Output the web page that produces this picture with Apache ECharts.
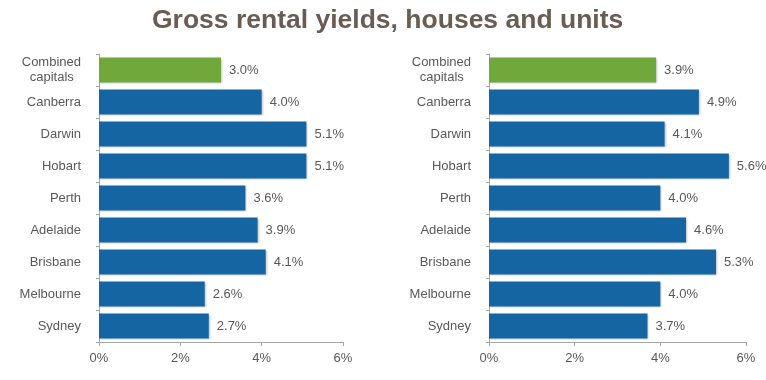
<!DOCTYPE html>
<html><head><meta charset="utf-8">
<script src="https://cdn.jsdelivr.net/npm/echarts@6/dist/echarts.min.js"></script>
<style>html,body{margin:0;padding:0;background:#fff}#c{width:766px;height:380px}</style>
</head><body><div id="c"></div>
<script>
const categories = ['Combined capitals','Canberra','Darwin','Hobart','Perth','Adelaide','Brisbane','Melbourne','Sydney'];
const housesYield = [3.0, 4.0, 5.1, 5.1, 3.6, 3.9, 4.1, 2.6, 2.7];
const unitsYield = [3.9, 4.9, 4.1, 5.6, 4.0, 4.6, 5.3, 4.0, 3.7];
const xTicks = [0, 2, 4, 6];

const BLUE = '#1565a2', GREEN = '#71a83c', TXT = '#595959', AX = '#a6a6a6';
const font = 'Liberation Sans, Arial, sans-serif';

function colored(vals){
  return vals.map((v,i)=>({value:v, itemStyle:{color: i===0 ? GREEN : BLUE}}));
}
function xAxis(idx){
  return {gridIndex:idx, type:'value', min:xTicks[0], max:xTicks[xTicks.length-1], interval:2,
    splitLine:{show:false},
    axisLine:{show:true, lineStyle:{color:AX}},
    axisTick:{show:true, length:4, lineStyle:{color:AX}},
    axisLabel:{color:TXT, fontSize:13, fontFamily:font, margin:10, formatter: v => v + '%'}};
}
function yAxis(idx){
  return {gridIndex:idx, type:'category', data:categories, inverse:true,
    axisLine:{show:true, lineStyle:{color:AX}},
    axisTick:{show:true, length:3, lineStyle:{color:AX}},
    axisLabel:{color:TXT, fontSize:13, fontFamily:font, margin:18, lineHeight:15,
      formatter: v => v === 'Combined capitals' ? 'Combined\ncapitals  ' : v}};
}
function series(idx, vals){
  return {type:'bar', xAxisIndex:idx, yAxisIndex:idx, data:colored(vals), barCategoryGap:'22%',
    itemStyle:{shadowColor:'rgba(0,0,0,0.25)', shadowBlur:2, shadowOffsetX:1, shadowOffsetY:1},
    label:{show:true, position:'right', distance:8, color:TXT, fontSize:13, fontFamily:font,
      formatter: p => p.value.toFixed(1) + '%'}};
}

const chart = echarts.init(document.getElementById('c'), null, {renderer:'canvas'});
chart.setOption({
  animation:false,
  backgroundColor:'#fff',
  title:{text:'Gross rental yields, houses and units', left:147, top:2,
    textStyle:{color:'#685c53', fontSize:26.5, fontWeight:'bold', fontFamily:font}},
  grid:[
    {left:99, width:244, top:54, height:288},
    {left:489, width:257, top:54, height:288}
  ],
  xAxis:[xAxis(0), xAxis(1)],
  yAxis:[yAxis(0), yAxis(1)],
  series:[series(0, housesYield), series(1, unitsYield)]
});
</script></body></html>
